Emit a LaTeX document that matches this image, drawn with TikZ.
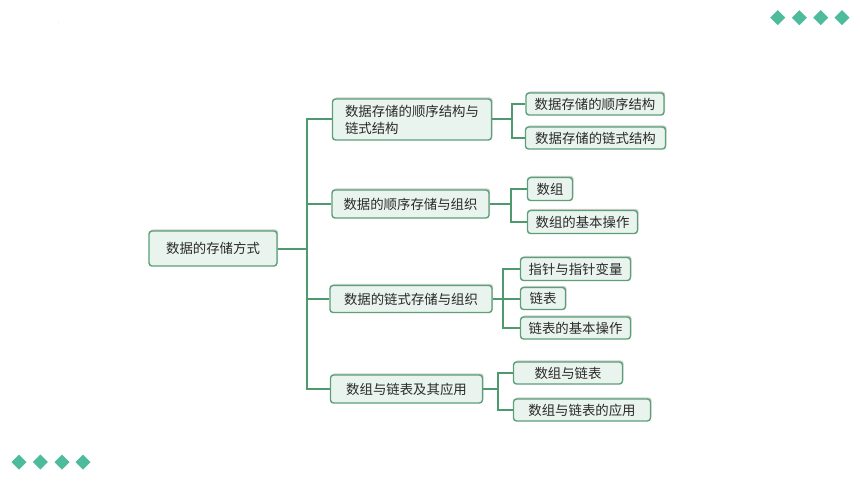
\documentclass[tikz,border=0pt]{standalone}
\usepackage{fontspec}
\newfontfamily\cjk{Noto Sans CJK SC}
\usetikzlibrary{shadows}
\definecolor{boxfill}{HTML}{EAF4EE}
\definecolor{boxline}{HTML}{5C9F78}
\definecolor{conn}{HTML}{4E9A6E}
\definecolor{txt}{HTML}{2A2A2A}
\definecolor{dia}{HTML}{4DBB9C}
\tikzset{
  mbox/.style={draw=boxline, line width=1.4pt, fill=boxfill, rounded corners=3pt,
    drop shadow={shadow xshift=1.2pt, shadow yshift=1.6pt, fill=black!30, opacity=0.6},
    text=txt, font=\cjk\fontsize{13.4}{17}\selectfont, inner sep=0pt, align=center},
  conn/.style={draw=conn, line width=2pt},
  diam/.style={fill=dia, draw=none}
}
\begin{document}
\begin{tikzpicture}[x=1pt,y=-1pt]
\useasboundingbox (0,0) rectangle (860,484);
\fill[white] (0,0) rectangle (860,484);
% decorative diamonds
\foreach \cx [count=\i] in {777.7,799.3,820.7,842}{
  \fill[diam] (\cx-7.5,17.7) -- (\cx,10.2) -- (\cx+7.5,17.7) -- (\cx,25.2) -- cycle;
}
\foreach \cx [count=\i] in {19,40.3,62,83}{
  \fill[diam] (\cx-7.5,462) -- (\cx,454.5) -- (\cx+7.5,462) -- (\cx,469.5) -- cycle;
}
\node[text=black!60, font=\fontsize{4}{4}\selectfont, inner sep=0pt] (dot) at (59,23) {.};
% nodes
\node[mbox, minimum width=128pt, minimum height=35pt] (r) at (213,248.5) {数据的存储方式};
\node[mbox, minimum width=159pt, minimum height=41pt, align=left] (a) at (412,119.5) {数据存储的顺序结构与\\链式结构\hspace{6em}};
\node[mbox, minimum width=157pt, minimum height=28pt] (b) at (410.5,204) {数据的顺序存储与组织};
\node[mbox, minimum width=162pt, minimum height=27pt] (c) at (411,299) {数据的链式存储与组织};
\node[mbox, minimum width=152pt, minimum height=28pt] (d) at (406.5,389) {数组与链表及其应用};
\node[mbox, minimum width=138pt, minimum height=22pt] (a1) at (595,104) {数据存储的顺序结构};
\node[mbox, minimum width=140pt, minimum height=22pt] (a2) at (595.5,138) {数据存储的链式结构};
\node[mbox, minimum width=45pt, minimum height=23pt] (b1) at (550,189) {数组};
\node[mbox, minimum width=110pt, minimum height=23pt] (b2) at (582.5,222) {数组的基本操作};
\node[mbox, minimum width=110pt, minimum height=23pt] (c1) at (575.5,269) {指针与指针变量};
\node[mbox, minimum width=45pt, minimum height=22pt] (c2) at (543,298.5) {链表};
\node[mbox, minimum width=110pt, minimum height=22pt] (c3) at (575.5,328) {链表的基本操作};
\node[mbox, minimum width=109pt, minimum height=22pt] (d1) at (568,373) {数组与链表};
\node[mbox, minimum width=137pt, minimum height=22pt] (d2) at (582,410) {数组与链表的应用};
% connectors
\foreach \ch in {a,b,c,d}{
  \draw[conn] (r.east) -- ++(29,0) |- (\ch.west);
}
\foreach \ch in {a1,a2}{
  \draw[conn] (a.east) -- ++(19.5,0) |- (\ch.west);
}
\foreach \ch in {b1,b2}{
  \draw[conn] (b.east) -- ++(21.5,0) |- (\ch.west);
}
\foreach \ch in {c1,c2,c3}{
  \draw[conn] (c.east) -- ++(10.5,0) |- (\ch.west);
}
\foreach \ch in {d1,d2}{
  \draw[conn] (d.east) -- ++(15,0) |- (\ch.west);
}
\end{tikzpicture}
\end{document}
